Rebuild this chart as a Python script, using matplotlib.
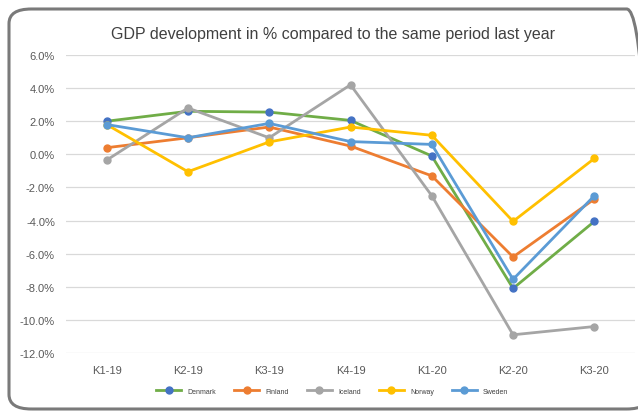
import matplotlib.pyplot as plt
from matplotlib.patches import FancyBboxPatch
from matplotlib.ticker import FuncFormatter

quarters = ["K1-19", "K2-19", "K3-19", "K4-19", "K1-20", "K2-20", "K3-20"]
denmark = [2.0, 2.6, 2.55, 2.05, -0.1, -8.1, -4.05]
finland = [0.4, 1.0, 1.65, 0.5, -1.3, -6.2, -2.7]
iceland = [-0.35, 2.8, 1.0, 4.2, -2.5, -10.9, -10.4]
norway = [1.8, -1.05, 0.75, 1.65, 1.15, -4.05, -0.25]
sweden = [1.8, 1.0, 1.87, 0.77, 0.6, -7.55, -2.5]

series = [
    ("Denmark", denmark, "#70AD47", "#4472C4"),
    ("Finland", finland, "#ED7D31", "#ED7D31"),
    ("Iceland", iceland, "#A5A5A5", "#A5A5A5"),
    ("Norway", norway, "#FFC000", "#FFC000"),
    ("Sweden", sweden, "#5B9BD5", "#5B9BD5"),
]

plt.rcParams["font.family"] = ["Liberation Sans", "DejaVu Sans"]

fig = plt.figure(figsize=(6.38, 4.14), dpi=100)
ax = fig.add_axes([66 / 638, 1 - 354 / 414, 569 / 638, 298 / 414])

# rounded chart frame
frame = FancyBboxPatch((9 / 638, 4 / 414), 640 / 638, 400 / 414,
                       boxstyle="round,pad=0,rounding_size=0.035",
                       transform=fig.transFigure, fill=False,
                       edgecolor="#7a7a7a", linewidth=2.2, clip_on=False)
fig.patches.append(frame)

x = range(len(quarters))
for name, vals, col, mcol in series:
    ax.plot(x, vals, color=col, linewidth=2.0, marker="o", markersize=5,
            markerfacecolor=mcol, markeredgecolor=mcol, label=name)

ax.set_xlim(-0.5, len(quarters) - 0.5)
ax.set_ylim(-12, 6)
ax.set_yticks(range(-12, 7, 2))
ax.yaxis.set_major_formatter(FuncFormatter(lambda v, p: f"{v:.1f}%"))
ax.set_xticks(list(x))
ax.set_xticklabels(quarters)
ax.tick_params(axis="both", length=0, labelsize=8, labelcolor="#595959")
ax.tick_params(axis="x", pad=9)
ax.tick_params(axis="y", pad=8)
ax.grid(axis="y", color="#d9d9d9", linewidth=0.9)
ax.set_axisbelow(True)
for s in ax.spines.values():
    s.set_visible(False)

fig.text(333 / 638, 1 - 35 / 414, "GDP development in % compared to the same period last year",
         ha="center", va="center", fontsize=11.5, color="#404040")

ax.legend(loc="center", bbox_to_anchor=(0.468, -0.128), ncol=5, frameon=False,
          fontsize=5, labelcolor="#404040", handlelength=3.6, columnspacing=2.6,
          handletextpad=0.9)

fig.savefig("out.png", dpi=100)
